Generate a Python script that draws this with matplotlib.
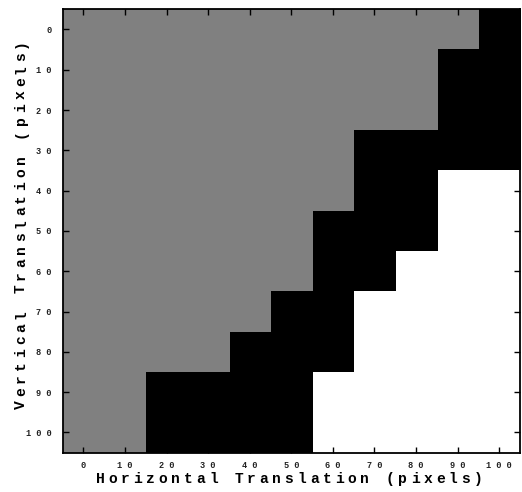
import matplotlib
matplotlib.use('Agg')
import numpy as np
import matplotlib.pyplot as plt

# translation steps (pixels), one cell per step
x_shifts = [0, 10, 20, 30, 40, 50, 60, 70, 80, 90, 100]
y_shifts = [0, 10, 20, 30, 40, 50, 60, 70, 80, 90, 100]

# 0.5 = gray, 0 = black, 1 = white
G, B, W = 0.5, 0.0, 1.0
row_00 = [G, G, G, G, G, G, G, G, G, G, B]
row_10 = [G, G, G, G, G, G, G, G, G, B, B]
row_20 = [G, G, G, G, G, G, G, G, G, B, B]
row_30 = [G, G, G, G, G, G, G, B, B, B, B]
row_40 = [G, G, G, G, G, G, G, B, B, W, W]
row_50 = [G, G, G, G, G, G, B, B, B, W, W]
row_60 = [G, G, G, G, G, G, B, B, W, W, W]
row_70 = [G, G, G, G, G, B, B, W, W, W, W]
row_80 = [G, G, G, G, B, B, B, W, W, W, W]
row_90 = [G, G, B, B, B, B, W, W, W, W, W]
row_100 = [G, G, B, B, B, B, W, W, W, W, W]
grid = np.array([row_00, row_10, row_20, row_30, row_40, row_50,
                 row_60, row_70, row_80, row_90, row_100])

xlabel = 'Horizontal Translation (pixels)'
ylabel = 'Vertical Translation (pixels)'

FW, FH = 522, 492
fig = plt.figure(figsize=(FW / 100, FH / 100), dpi=100)
ax = fig.add_axes([0.120, 0.080, 0.876, 0.901])

step = x_shifts[1] - x_shifts[0]
ext = [x_shifts[0] - step / 2, x_shifts[-1] + step / 2,
       y_shifts[-1] + step / 2, y_shifts[0] - step / 2]
ax.imshow(grid, cmap='gray', vmin=0, vmax=1, extent=ext,
          aspect='auto', interpolation='nearest')

mono = {'family': 'Liberation Mono', 'weight': 'bold'}
ax.set_xticks(x_shifts)
ax.set_yticks(y_shifts)
ax.set_xticklabels([' '.join(str(v)) for v in x_shifts], fontdict=mono, fontsize=6.2)
ax.set_yticklabels([' '.join(str(v)) for v in y_shifts], fontdict=mono, fontsize=6.2)
ax.tick_params(direction='in', length=4.5, width=1, top=True, right=True,
               color='black', labelcolor='#222222')
ax.tick_params(axis='x', pad=6)
ax.tick_params(axis='y', pad=8)
for s in ax.spines.values():
    s.set_linewidth(1.3)


def spaced_label(text, cx, cy, pitch, vertical=False):
    # letter-spaced label, placed one glyph at a time (figure pixels)
    n = len(text)
    for i, ch in enumerate(text):
        off = (i - (n - 1) / 2) * pitch
        if vertical:
            fig.text(cx / FW, 1 - (cy - off) / FH, ch, rotation=90,
                     ha='center', va='center', fontsize=10.5, **mono)
        else:
            fig.text((cx + off) / FW, 1 - cy / FH, ch,
                     ha='center', va='center', fontsize=10.5, **mono)


spaced_label(xlabel, 289, 479, 12.6)
spaced_label(ylabel, 21, 224, 12.9, vertical=True)

fig.savefig('out.png', dpi=100)
